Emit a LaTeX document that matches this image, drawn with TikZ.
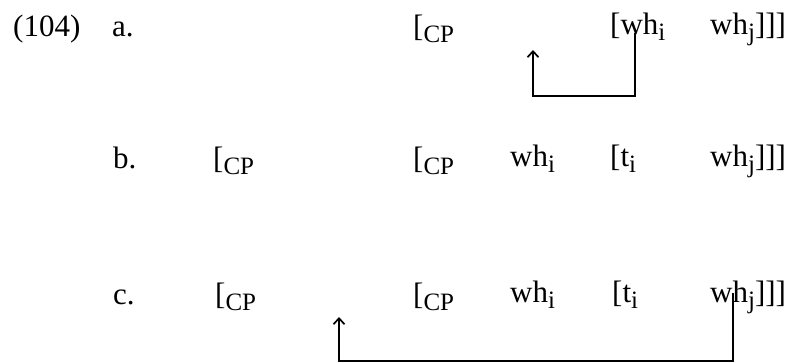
\documentclass[tikz,border=0pt]{standalone}
\usepackage{fontspec}
\setmainfont{Liberation Serif}
\usetikzlibrary{arrows.meta}
\newcommand\sbx[1]{\raisebox{-6pt}{\fontsize{25}{25}\selectfont #1}}
\begin{document}
\begin{tikzpicture}[x=1pt,y=-1pt,
  word/.style={anchor=base west,inner sep=0pt,font=\fontsize{31}{36}\selectfont},
  mv/.style={line width=1.7pt,-{Straight Barb[length=6pt,width=11pt,line width=1.7pt]}}]
\useasboundingbox (0,0) rectangle (794,362);
% row a
\node[word] (n104) at (13,36) {(104)};
\node[word] (la) at (112,36) {a.};
\node[word] (a1) at (413,36) {[\sbx{CP}};
\node[word] (a2) at (610,34) {[wh\sbx{i}};
\node[word] (a3) at (710,34) {wh\sbx{j}]]]};
% row b
\node[word] (lb) at (113,168) {b.};
\node[word] (b1) at (213,168) {[\sbx{CP}};
\node[word] (b2) at (413,168) {[\sbx{CP}};
\node[word] (b3) at (510,166) {wh\sbx{i}};
\node[word] (b4) at (610,166) {[t\sbx{i}};
\node[word] (b5) at (710,166) {wh\sbx{j}]]]};
% row c
\node[word] (lc) at (113,304) {c.};
\node[word] (c1) at (215,304) {[\sbx{CP}};
\node[word] (c2) at (413,304) {[\sbx{CP}};
\node[word] (c3) at (510,302) {wh\sbx{i}};
\node[word] (c4) at (612,302) {[t\sbx{i}};
\node[word] (c5) at (710,302) {wh\sbx{j}]]]};
% movement arrows
\coordinate (aS) at (635,33);
\coordinate (aT) at (533,50);
\coordinate (aB) at (0,96);
\draw[mv] (aS) -- (aS |- aB) -| (aT);
\coordinate (cS) at (733,293);
\coordinate (cT) at (339,317);
\coordinate (cB) at (0,361);
\draw[mv] (cS) -- (cS |- cB) -| (cT);
\end{tikzpicture}
\end{document}
